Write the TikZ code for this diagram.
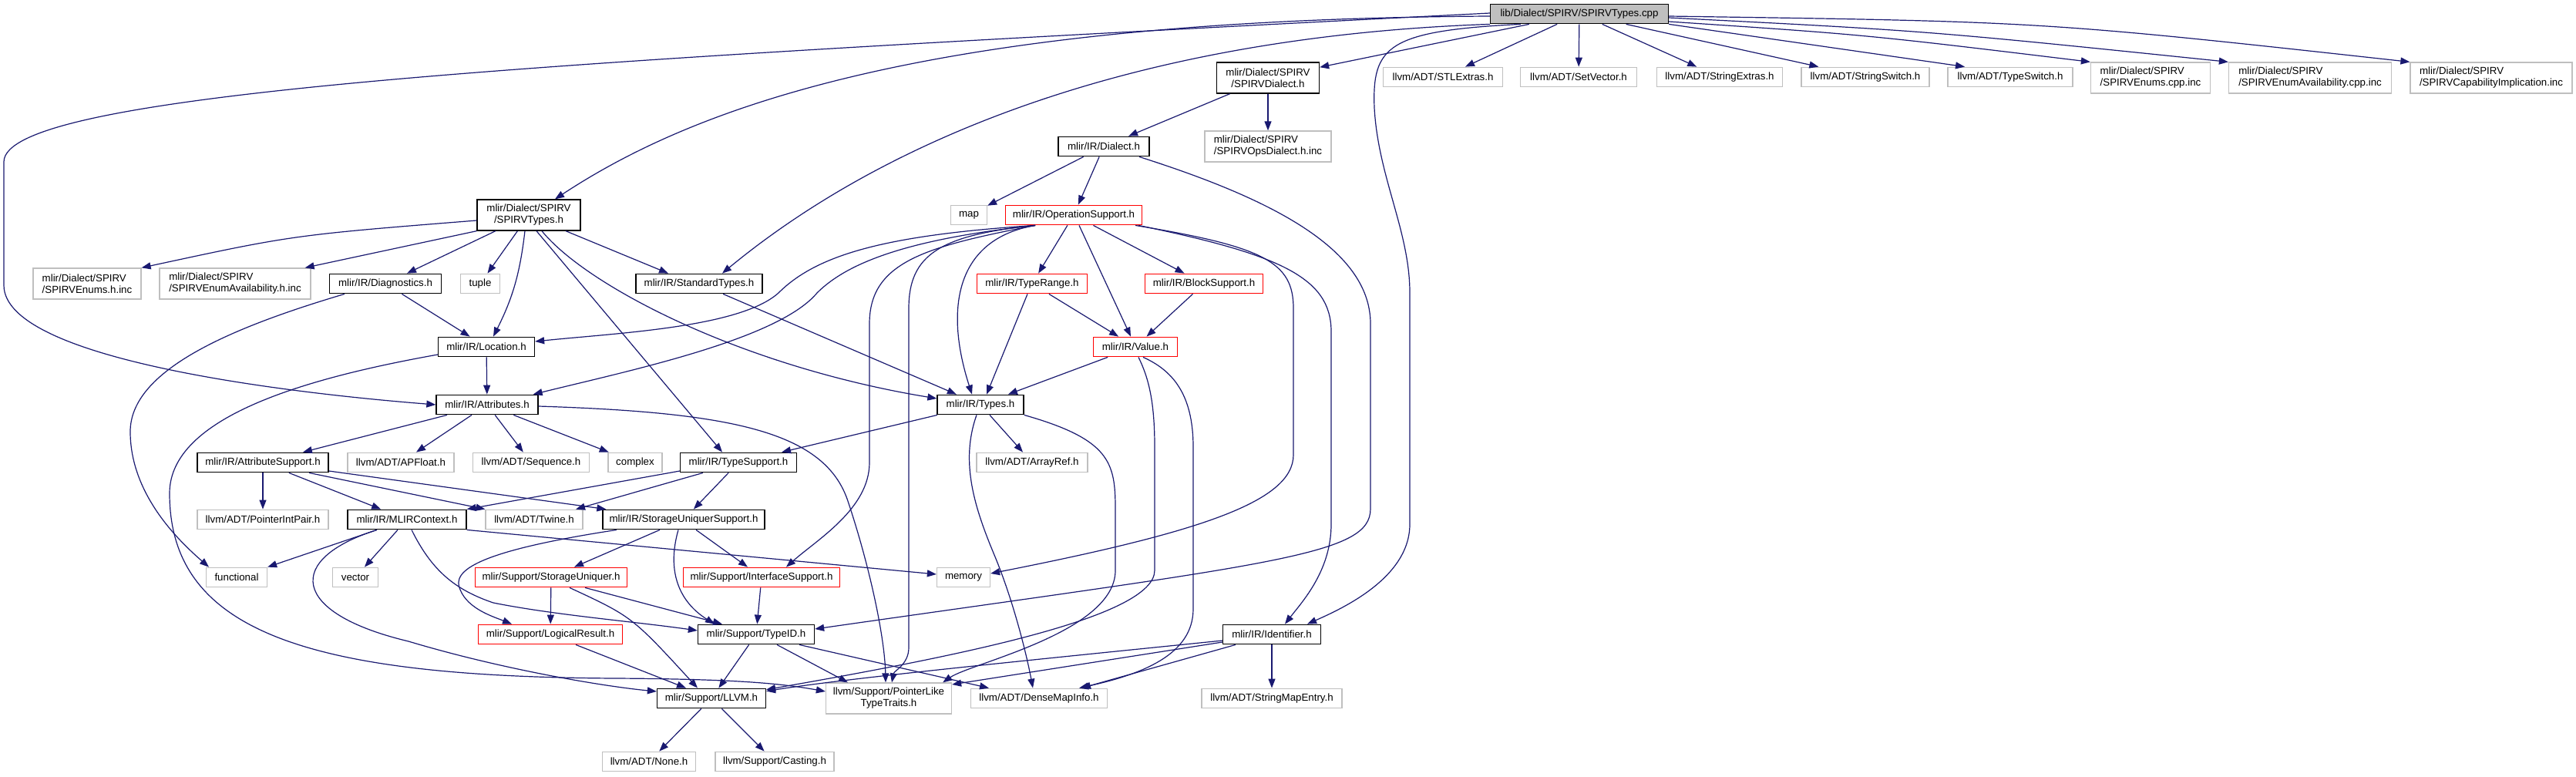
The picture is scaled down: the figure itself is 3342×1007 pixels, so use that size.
\documentclass[tikz,border=0pt]{standalone}
\usepackage{fontspec}
\setmainfont{Liberation Sans}
\usepackage{xcolor}
\usetikzlibrary{arrows.meta}
\definecolor{edgeblue}{HTML}{191970}
\definecolor{extgray}{HTML}{BFBFBF}

\begin{document}
\begin{tikzpicture}[x=1pt,y=-1pt,
  box/.style={draw,fill=white,line width=1.3pt,inner xsep=5pt,inner ysep=0pt,minimum height=25.5pt,font=\fontsize{13.3}{15}\selectfont},
  docnode/.style={box,draw=black},
  extnode/.style={box,draw=extgray},
  trnode/.style={box,draw=red},
  rootnode/.style={box,draw=black,fill=extgray},
  twoline/.style={minimum height=40pt,align=left},
  uses/.style={draw=edgeblue,line width=1.2pt,-{Triangle[length=12pt,width=9pt]}}]
\useasboundingbox (0,0) rectangle (3342,1007);
\fill[white] (0,0) rectangle (3342,1007);

\node[rootnode,minimum width=231pt] (root) at (2049,18) {lib/Dialect/SPIRV/SPIRVTypes.cpp};
\node[docnode,twoline,align=center,minimum width=133pt] (spDialect) at (1645,101) {mlir/Dialect/SPIRV\\/SPIRVDialect.h};
\node[extnode,minimum width=155pt] (stl) at (1872,100) {llvm/ADT/STLExtras.h};
\node[extnode,minimum width=151pt] (setvec) at (2048,100) {llvm/ADT/SetVector.h};
\node[extnode,minimum width=163pt] (strext) at (2231,100) {llvm/ADT/StringExtras.h};
\node[extnode,minimum width=166pt] (strsw) at (2420,100) {llvm/ADT/StringSwitch.h};
\node[extnode,minimum width=162pt] (tysw) at (2608,100) {llvm/ADT/TypeSwitch.h};
\node[extnode,twoline,minimum width=155pt] (enumscpp) at (2790,101) {mlir/Dialect/SPIRV\\/SPIRVEnums.cpp.inc};
\node[extnode,twoline,minimum width=211pt] (availcpp) at (2997,101) {mlir/Dialect/SPIRV\\/SPIRVEnumAvailability.cpp.inc};
\node[extnode,twoline,minimum width=210pt] (capimpl) at (3232,101) {mlir/Dialect/SPIRV\\/SPIRVCapabilityImplication.inc};
\node[docnode,minimum width=118pt] (dialect) at (1432,190) {mlir/IR/Dialect.h};
\node[extnode,twoline,minimum width=164pt] (opsdialect) at (1645,190) {mlir/Dialect/SPIRV\\/SPIRVOpsDialect.h.inc};
\node[docnode,twoline,align=center,minimum width=134pt] (spTypes) at (686,279) {mlir/Dialect/SPIRV\\/SPIRVTypes.h};
\node[extnode,minimum width=47pt] (map) at (1257,279) {map};
\node[trnode,minimum width=177pt] (opsupp) at (1393,279) {mlir/IR/OperationSupport.h};
\node[extnode,twoline,minimum width=140pt] (enumsh) at (113,368) {mlir/Dialect/SPIRV\\/SPIRVEnums.h.inc};
\node[extnode,twoline,minimum width=196pt] (availh) at (305,368) {mlir/Dialect/SPIRV\\/SPIRVEnumAvailability.h.inc};
\node[docnode,minimum width=145pt] (diag) at (500,368) {mlir/IR/Diagnostics.h};
\node[extnode,minimum width=51pt] (tuple) at (623,368) {tuple};
\node[docnode,minimum width=164pt] (stdtypes) at (907,368) {mlir/IR/StandardTypes.h};
\node[trnode,minimum width=143pt] (trange) at (1339,368) {mlir/IR/TypeRange.h};
\node[trnode,minimum width=153pt] (blocksupp) at (1562,368) {mlir/IR/BlockSupport.h};
\node[docnode,minimum width=125pt] (loc) at (631,450) {mlir/IR/Location.h};
\node[trnode,minimum width=109pt] (value) at (1473,450) {mlir/IR/Value.h};
\node[docnode,minimum width=132pt] (attrs) at (632,525) {mlir/IR/Attributes.h};
\node[docnode,minimum width=112pt] (types) at (1272,525) {mlir/IR/Types.h};
\node[docnode,minimum width=170pt] (attrsupp) at (341,600) {mlir/IR/AttributeSupport.h};
\node[extnode,minimum width=138pt] (apfloat) at (520,600) {llvm/ADT/APFloat.h};
\node[extnode,minimum width=151pt] (sequence) at (689,600) {llvm/ADT/Sequence.h};
\node[extnode,minimum width=70pt] (complex) at (824,600) {complex};
\node[docnode,minimum width=151pt] (typesupp) at (958,600) {mlir/IR/TypeSupport.h};
\node[extnode,minimum width=144pt] (arrayref) at (1339,600) {llvm/ADT/ArrayRef.h};
\node[extnode,minimum width=170pt] (ptrint) at (341,674) {llvm/ADT/PointerIntPair.h};
\node[docnode,minimum width=154pt] (mlirctx) at (528,674) {mlir/IR/MLIRContext.h};
\node[extnode,minimum width=126pt] (twine) at (693,674) {llvm/ADT/Twine.h};
\node[docnode,minimum width=210pt] (susupp) at (887,674) {mlir/IR/StorageUniquerSupport.h};
\node[extnode,minimum width=79pt] (functional) at (307,749) {functional};
\node[extnode,minimum width=59pt] (vector) at (461,749) {vector};
\node[trnode,minimum width=197pt] (suniq) at (715,749) {mlir/Support/StorageUniquer.h};
\node[trnode,minimum width=203pt] (ifsupp) at (988,749) {mlir/Support/InterfaceSupport.h};
\node[extnode,minimum width=69pt] (memory) at (1250,749) {memory};
\node[trnode,minimum width=187pt] (logres) at (714,823) {mlir/Support/LogicalResult.h};
\node[docnode,minimum width=151pt] (typeid) at (981,823) {mlir/Support/TypeID.h};
\node[docnode,minimum width=127pt] (ident) at (1650,823) {mlir/IR/Identifier.h};
\node[docnode,minimum width=141pt] (llvm) at (923,906) {mlir/Support/LLVM.h};
\node[extnode,twoline,align=center,minimum width=163pt] (ptrlike) at (1153,906) {llvm/Support/PointerLike\\TypeTraits.h};
\node[extnode,minimum width=177pt] (densemap) at (1348,906) {llvm/ADT/DenseMapInfo.h};
\node[extnode,minimum width=182pt] (strmap) at (1650,906) {llvm/ADT/StringMapEntry.h};
\node[extnode,minimum width=121pt] (none) at (842,988) {llvm/ADT/None.h};
\node[extnode,minimum width=154pt] (casting) at (1005,988) {llvm/Support/Casting.h};

\draw[uses] (root) -- (stl);
\draw[uses] (root) -- (setvec);
\draw[uses] (root) -- (strext);
\draw[uses] (root) -- (strsw);
\draw[uses] (root.south east) -- ([xshift=-59pt]tysw.north);
\draw[uses] ([yshift=-10pt]root.east) .. controls (2420,45) .. (enumscpp.north west);
\draw[uses] ([yshift=-5pt]root.east) .. controls (2500,40) .. (availcpp.north west);
\draw[uses] ([yshift=-3pt]root.east) .. controls (2650,28) .. (capimpl.north west);
\draw[uses] (root) -- (spDialect);
\draw[uses] ([yshift=-3pt]root.west) .. controls (1200,25) and (900,140) .. ([xshift=34pt]spTypes.north);
\draw[uses] (root.south west) .. controls (1400,50) and (1100,220) .. ([xshift=30pt]stdtypes.north);
\draw[uses] ([yshift=1pt]root.west) .. controls (700,80) and (5,120) .. (5,210) -- (5,370) .. controls (5,470) and (400,512) .. (attrs.west);
\draw[uses] ([xshift=40pt]root.south west) .. controls (1800,40) and (1780,60) .. (1783,140) .. controls (1788,230) and (1829,300) .. (1829,380) -- (1829,680) .. controls (1829,750) and (1740,790) .. ([xshift=46pt]ident.north);

\draw[uses] (spDialect) -- (dialect);
\draw[uses] (spDialect) -- (opsdialect);
\draw[uses] (dialect) -- (map);
\draw[uses] (dialect) -- (opsupp);
\draw[uses] ([xshift=46pt]dialect.south) .. controls (1640,255) and (1778,320) .. (1778,420) -- (1778,660) .. controls (1778,720) and (1660,730) .. ([yshift=7pt]typeid.east);

\draw[uses] (opsupp) -- (trange);
\draw[uses] ([xshift=7pt]opsupp.south) -- ([xshift=-6pt]value.north);
\draw[uses] (opsupp) -- (blocksupp);
\draw[uses] ([xshift=-50pt]opsupp.south) .. controls (1150,305) and (1060,330) .. (1010,380) .. controls (960,425) and (800,432) .. ([yshift=7pt]loc.east);
\draw[uses] ([xshift=-50pt]opsupp.south) .. controls (1180,310) and (1100,340) .. (1060,380) .. controls (1010,440) and (820,480) .. ([xshift=-7pt]attrs.north east);
\draw[uses] ([xshift=-50pt]opsupp.south) .. controls (1200,320) and (1128,340) .. (1128,420) -- (1128,600) .. controls (1128,660) and (1060,700) .. ([xshift=32pt]ifsupp.north);
\draw[uses] ([xshift=-50pt]opsupp.south) .. controls (1220,305) and (1179,330) .. (1179,400) -- (1179,840) .. controls (1179,862) and (1160,870) .. ([xshift=4pt]ptrlike.north);
\draw[uses] ([xshift=-50pt]opsupp.south) .. controls (1240,310) and (1225,400) .. ([xshift=-11pt]types.north);
\draw[uses] ([xshift=80pt]opsupp.south) .. controls (1640,320) and (1678,340) .. (1678,400) -- (1678,590) .. controls (1678,650) and (1560,690) .. ([yshift=5pt]memory.east);
\draw[uses] ([xshift=84pt]opsupp.south) .. controls (1660,330) and (1727,360) .. (1727,430) -- (1727,680) .. controls (1727,740) and (1690,780) .. ([xshift=17pt]ident.north);

\draw[uses] ([yshift=-7pt]spTypes.west) .. controls (380,305) .. (enumsh.north east);
\draw[uses] (spTypes.south west) -- ([xshift=-8pt]availh.north east);
\draw[uses] (spTypes) -- (diag);
\draw[uses] (spTypes) -- (tuple);
\draw[uses] ([xshift=-5pt]spTypes.south) to[bend left=10] ([xshift=9pt]loc.north);
\draw[uses] ([xshift=10pt]spTypes.south) -- ([xshift=-21pt]typesupp.north);
\draw[uses] ([xshift=17pt]spTypes.south) .. controls (760,370) and (960,475) .. ([yshift=8pt]types.west);
\draw[uses] ([xshift=48pt]spTypes.south) -- ([xshift=-40pt]stdtypes.north);

\draw[uses] (diag) -- (loc);
\draw[uses] ([xshift=-53pt]diag.south) .. controls (300,425) and (169,480) .. (169,560) .. controls (169,640) and (230,700) .. ([xshift=-36pt]functional.north);
\draw[uses] (stdtypes) -- (types);
\draw[uses] ([xshift=-6pt]trange.south) -- ([xshift=8pt]types.north);
\draw[uses] (trange) -- (value);
\draw[uses] (blocksupp) -- (value);
\draw[uses] (value) -- (types);
\draw[uses] ([xshift=4pt]value.south) .. controls (1490,490) and (1498,520) .. (1498,580) -- (1498,740) .. controls (1498,800) and (1250,850) .. ([yshift=-2pt]llvm.north east);
\draw[uses] ([xshift=10pt]value.south) .. controls (1520,480) and (1548,510) .. (1548,580) -- (1548,790) .. controls (1548,850) and (1480,875) .. ([xshift=52pt]densemap.north);

\draw[uses] (loc) -- (attrs);
\draw[uses] ([yshift=-10pt]loc.west) .. controls (400,490) and (220,540) .. (220,640) .. controls (220,820) and (400,878) .. (800,880) .. controls (950,881) and (1010,886) .. ([yshift=9pt]ptrlike.west);

\draw[uses] (attrs) -- (attrsupp);
\draw[uses] (attrs) -- (apfloat);
\draw[uses] (attrs) -- (sequence);
\draw[uses] (attrs) -- (complex);
\draw[uses] ([yshift=-2pt]attrs.east) .. controls (950,535) and (1070,560) .. (1100,650) .. controls (1130,740) and (1148,830) .. ([xshift=-4pt]ptrlike.north);

\draw[uses] (types) -- (typesupp);
\draw[uses] (types) -- (arrayref);
\draw[uses] ([xshift=-5pt]types.south) .. controls (1245,600) and (1265,660) .. (1290,720) .. controls (1315,780) and (1332,850) .. ([xshift=-8pt]densemap.north);
\draw[uses] (types.south east) .. controls (1440,570) and (1447,600) .. (1447,660) -- (1447,740) .. controls (1447,820) and (1260,860) .. ([xshift=-12pt]ptrlike.north east);

\draw[uses] (attrsupp) -- (ptrint);
\draw[uses] (attrsupp) -- (mlirctx);
\draw[uses] ([xshift=60pt]attrsupp.south) -- (twine.north west);
\draw[uses] ([yshift=-11pt]attrsupp.east) -- ([xshift=5pt]susupp.north west);
\draw[uses] ([yshift=-11pt]typesupp.west) -- (mlirctx.north east);
\draw[uses] ([xshift=-46pt]typesupp.south) -- ([xshift=54pt]twine.north);
\draw[uses] (typesupp) -- (susupp);

\draw[uses] ([xshift=-39pt]mlirctx.south) -- (functional.north east);
\draw[uses] (mlirctx) -- (vector);
\draw[uses] (mlirctx.south east) -- ([yshift=4pt]memory.west);
\draw[uses] ([xshift=-39pt]mlirctx.south) .. controls (370,725) and (375,795) .. (530,832) .. controls (650,868) and (780,890) .. ([yshift=9pt]llvm.west);
\draw[uses] ([xshift=6pt]mlirctx.south) .. controls (560,740) and (590,765) .. (640,782) .. controls (720,798) and (820,806) .. ([yshift=5pt]typeid.west);

\draw[uses] ([xshift=-87pt]susupp.south) .. controls (620,715) and (585,740) .. (597,765) .. controls (607,790) and (640,800) .. ([xshift=-50pt]logres.north);
\draw[uses] ([xshift=-31pt]susupp.south) -- ([xshift=30pt]suniq.north);
\draw[uses] ([xshift=-7pt]susupp.south) .. controls (865,740) and (880,780) .. ([xshift=-54pt]typeid.north);
\draw[uses] ([xshift=16pt]susupp.south) -- ([xshift=-18pt]ifsupp.north);

\draw[uses] (suniq) -- (logres);
\draw[uses] ([xshift=44pt]suniq.south) -- ([xshift=-44pt]typeid.north);
\draw[uses] ([xshift=24pt]suniq.south) .. controls (820,800) .. ([xshift=-18pt]llvm.north);
\draw[uses] ([xshift=33pt]logres.south) -- ([xshift=-33pt]llvm.north);
\draw[uses] (ifsupp) -- (typeid);

\draw[uses] (typeid) -- (llvm);
\draw[uses] ([xshift=27pt]typeid.south) -- ([xshift=-53pt]ptrlike.north);
\draw[uses] ([xshift=56pt]typeid.south) -- ([xshift=-65pt]densemap.north);

\draw[uses] ([yshift=-8pt]ident.west) .. controls (1300,860) and (1100,880) .. ([yshift=-4pt]llvm.north east);
\draw[uses] ([yshift=-10pt]ident.west) -- ([yshift=18pt]ptrlike.east);
\draw[uses] ([xshift=-47pt]ident.south) -- ([xshift=55pt]densemap.north);
\draw[uses] (ident) -- (strmap);

\draw[uses] (llvm) -- (none);
\draw[uses] (llvm) -- (casting);
\end{tikzpicture}
\end{document}
